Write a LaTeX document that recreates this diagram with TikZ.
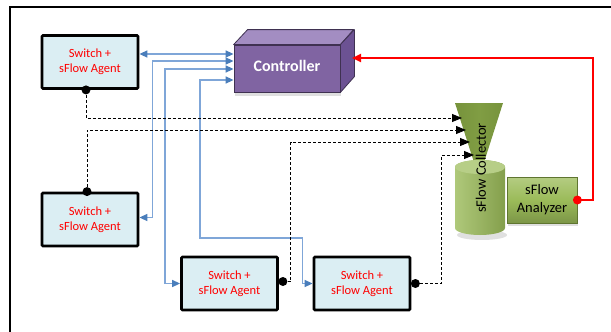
\documentclass[tikz,border=0pt]{standalone}
\usepackage{fontspec}
\setmainfont{Carlito}
\usetikzlibrary{arrows.meta,calc,shadows}
\definecolor{swfill}{HTML}{DBEEF3}
\definecolor{ctrlfront}{HTML}{8064A2}
\definecolor{ctrltop}{HTML}{A38DC2}
\definecolor{ctrlsidec}{HTML}{6C5293}
\definecolor{ctrledge}{HTML}{3F3151}
\definecolor{bline}{HTML}{7FA6D8}
\definecolor{btip}{HTML}{4A7EBB}
\definecolor{gdark}{HTML}{77933C}
\definecolor{glight}{HTML}{9BBB59}
\definecolor{gpale}{HTML}{C3D69B}
\definecolor{gedge}{HTML}{5F7530}
\begin{document}
\begin{tikzpicture}[x=1pt,y=-1pt,
  switchbox/.style={draw=black, line width=2.8pt, fill=swfill, rounded corners=1pt,
    minimum width=96pt, minimum height=53pt, inner sep=0pt, align=center, text=red,
    font=\fontsize{12.5}{15}\selectfont},
  bl/.style={draw=bline, line width=1.5pt,
    {Triangle[length=8pt,width=7pt,color=btip]}-{Triangle[length=8pt,width=7pt,color=btip]}},
  dl/.style={draw=black, line width=1pt, dash pattern=on 3pt off 2pt,
    -{Triangle[length=10pt,width=8pt]}},
  dotc/.style={fill=black},
]
\useasboundingbox (0,0) rectangle (611,332);
% frame
\draw[line width=1.5pt] (10,332) -- (10,7) -- (611,7);

% switches
\node[switchbox] (s1) at (90,62) {Switch +\\sFlow Agent};
\node[switchbox] (s2) at (90,219.5) {Switch +\\sFlow Agent};
\node[switchbox] (s3) at (229.5,283.5) {Switch +\\sFlow Agent};
\node[switchbox] (s4) at (362,283.5) {Switch +\\sFlow Agent};

% controller
\node[fill=ctrlfront, draw=ctrledge, line width=0.8pt, minimum width=106pt, minimum height=47pt,
  drop shadow={shadow xshift=1pt, shadow yshift=-4pt, opacity=0.25}] (ctrl) at (287,68.5) {};
\node[text=white, font=\fontsize{16}{18}\selectfont\bfseries, inner sep=0pt] (ctrltext) at (287,65.5) {Controller};
\filldraw[fill=ctrltop, draw=ctrledge, line width=0.8pt, line join=round]
  (ctrl.north west) -- ++(14,-15) -- ++(106,0) -- (ctrl.north east) -- cycle;
\filldraw[fill=ctrlsidec, draw=ctrledge, line width=0.8pt, line join=round]
  (ctrl.north east) -- ++(14,-15) -- ++(0,47) -- (ctrl.south east) -- cycle;
\coordinate (ctrlin) at (352,58);

% collector funnel
\shade[left color=gdark, right color=gdark, middle color=gdark!75!glight]
  (455,103) -- (503,103) -- (479,178) -- cycle;
% collector cylinder
\fill[black, opacity=0.12] (482,235) ellipse (25 and 5);
\shade[left color=glight!80!white, right color=glight!85!black]
  (455,167) -- (455,228) arc (180:0:25 and 7) -- (505,167) arc (0:-180:25 and 7) -- cycle;
\fill[gpale!70!glight] (480,167) ellipse (25 and 7);
\node[rotate=90, font=\fontsize{14.5}{16}\selectfont, inner sep=0pt] (coll) at (481,168) {sFlow Collector};
\coordinate (f1) at (462,118);
\coordinate (f2) at (466,130);
\coordinate (f3) at (470,142);
\coordinate (f4) at (474,155);

% analyzer
\node[draw=gedge, line width=0.8pt, top color=glight!75!white, bottom color=glight!80!black,
  middle color=glight, minimum width=70pt, minimum height=46pt, inner sep=0pt, align=center,
  font=\fontsize{14.5}{18}\selectfont,
  drop shadow={shadow xshift=1pt, shadow yshift=-3pt, opacity=0.25}] (an) at (542,200) {sFlow\\Analyzer};

% blue controller links
\draw[bl] ($(s1.east)+(0,-8)$) -- ($(ctrl.west)+(0,-14.5)$);
\draw[bl] ($(ctrl.west)+(0,-7.5)$) -| ($(s2.east)+(13,-2)$) -- ($(s2.east)+(0,-2)$);
\draw[bl] ($(ctrl.west)+(0,0.5)$) -| ($(s3.west)+(-15,0)$) -- (s3.west);
\draw[bl] ($(ctrl.west)+(0,11.5)$) -| (200,238) -| ($(s4.west)+(-10,0)$) -- (s4.west);

% dashed sFlow links
\coordinate (d1) at ($(s1.south)+(-4,0)$);
\coordinate (d2) at ($(s2.north)+(-3,0)$);
\coordinate (d3) at ($(s3.east)+(4,-2)$);
\coordinate (d4) at ($(s4.east)+(4,0)$);
\draw[dl] (d1) |- (f1);
\draw[dl] (d2) |- (f2);
\draw[dl] (d3) -- ($(d3)+(8,0)$) |- (f3);
\draw[dl] (d4) -- ($(d4)+(26,0)$) |- (f4);
\foreach \d in {d1,d2,d3,d4} \fill[dotc] (\d) circle (4.5pt);

% red analyzer link
\draw[red, line width=2pt, -{Triangle[length=9pt,width=8pt]}] (an.east) -- ++(16,0) |- (ctrlin);
\fill[red] (an.east) circle (4.5pt);
\end{tikzpicture}
\end{document}
